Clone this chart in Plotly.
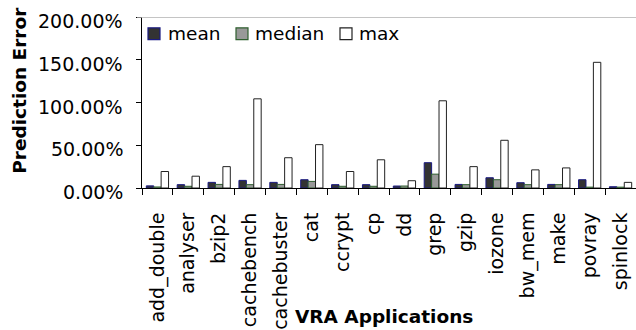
import plotly.graph_objects as go

apps = ["add_double", "analyser", "bzip2", "cachebench", "cachebuster", "cat",
        "ccrypt", "cp", "dd", "grep", "gzip", "iozone", "bw_mem", "make",
        "povray", "spinlock"]
mean_err = [2.5, 3.9, 6.6, 8.9, 6.6, 9.7, 3.9, 3.9, 2.3, 29.6, 4.2, 12.0, 6.2, 4.2, 9.7, 1.5]
median_err = [1.2, 2.0, 4.2, 3.9, 4.2, 7.7, 2.0, 2.0, 2.3, 16.2, 3.9, 9.7, 3.9, 3.9, 1.0, 1.0]
max_err = [19.3, 13.8, 25.0, 104.3, 35.4, 50.7, 19.3, 33.0, 8.5, 102.0, 25.0, 55.8, 21.2, 23.5, 147.0, 6.6]
y_ticks = [0, 50, 100, 150, 200]
y_tick_text = ["0.00%", "50.00%", "100.00%", "150.00%", "200.00%"]

series = [
    ("mean", mean_err, "#333333", "#1a1a80"),
    ("median", median_err, "#999999", "#2f5f2f"),
    ("max", max_err, "#ffffff", "#222222"),
]

font = "DejaVu Sans"
W, H = 636, 330
L, R, T, B = 142, 0, 17, 139
pw, ph = W - L - R, H - T - B


def px(x):
    return (x - L) / pw


def py(y):
    return (H - B - y) / ph


fig = go.Figure()
for name, vals, fill, edge in series:
    fig.add_bar(name=name, x=apps, y=vals,
                marker=dict(color=fill, line=dict(color=edge, width=1)))

fig.update_layout(
    width=W, height=H,
    margin=dict(l=L, r=R, t=T, b=B),
    paper_bgcolor="white", plot_bgcolor="white",
    barmode="group", bargap=0.28, bargroupgap=0,
    font=dict(family=font, size=18, color="black"),
    showlegend=False,
    xaxis=dict(tickangle=-90, tickson="boundaries", ticks="outside", ticklen=6,
               tickcolor="black", showline=True, linecolor="black", linewidth=1,
               tickfont=dict(size=19), showgrid=False, ticklabelstandoff=16),
    yaxis=dict(range=[0, 200], tickvals=y_ticks, showticklabels=False,
               ticks="outside", ticklen=5, tickcolor="black", showline=True,
               linecolor="black", linewidth=1, showgrid=False, zeroline=False),
)

# y tick labels, sitting slightly below their tick marks
for v, t in zip(y_ticks, y_tick_text):
    fig.add_annotation(text=t, xref="paper", yref="y", x=px(125), y=v, yshift=-4,
                       xanchor="right", yanchor="middle", showarrow=False,
                       font=dict(size=19))

# plot-area top border
fig.add_shape(type="line", xref="paper", yref="y", x0=px(137), x1=1, y0=200, y1=200,
              line=dict(color="#b0b0b0", width=1.5))

# legend: swatch + label per series
legend_pos = [(148, 166), (236, 253), (340, 357)]
for (name, _, fill, edge), (sx, tx) in zip(series, legend_pos):
    fig.add_shape(type="rect", xref="paper", yref="paper",
                  x0=px(sx), x1=px(sx + 12), y0=py(40), y1=py(28),
                  fillcolor=fill, line=dict(color=edge, width=1.2))
    fig.add_annotation(text=name, xref="paper", yref="paper", x=px(tx), y=py(34),
                       xanchor="left", yanchor="middle", showarrow=False,
                       font=dict(size=18.5))

# axis titles
fig.add_annotation(text="<b>Prediction Error</b>", xref="paper", yref="paper",
                   x=px(20), y=py(92), textangle=-90, xanchor="center", yanchor="middle",
                   showarrow=False, font=dict(size=18.5))
fig.add_annotation(text="<b>VRA Applications</b>", xref="paper", yref="paper",
                   x=px(384), y=py(322), xanchor="center", yanchor="middle",
                   showarrow=False, font=dict(size=18.5))

fig.write_html("out.html")
